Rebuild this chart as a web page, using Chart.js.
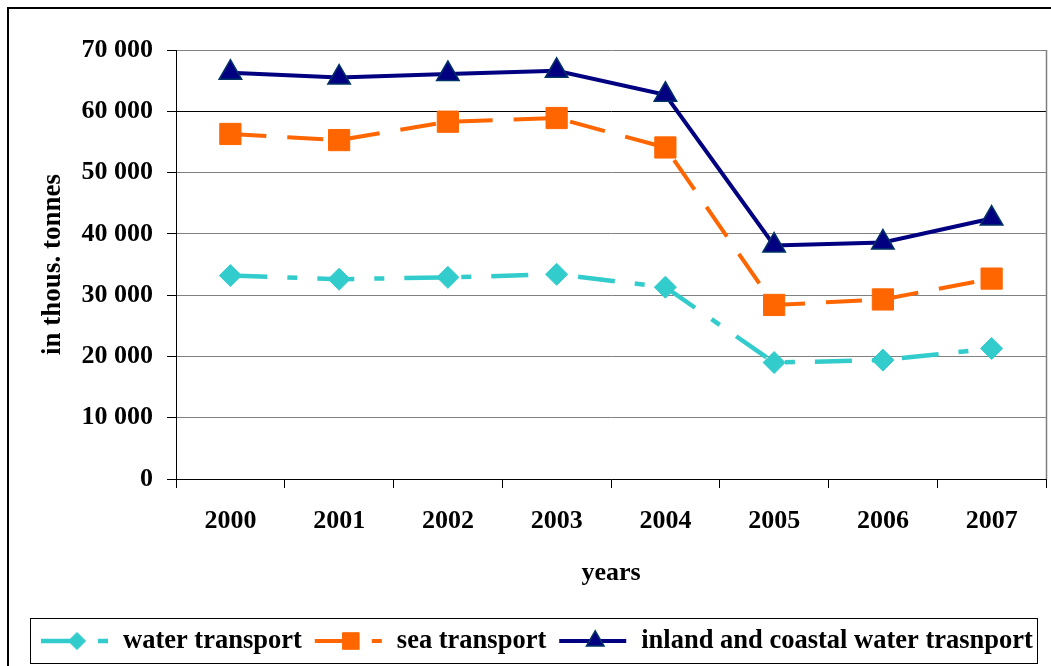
<!DOCTYPE html>
<html>
<head>
<meta charset="utf-8">
<script src="https://cdn.jsdelivr.net/npm/chart.js@4.4.1/dist/chart.umd.min.js"></script>
<style>
  html, body { margin: 0; padding: 0; background: #fff; }
  #wrap { width: 1051px; height: 666px; }
</style>
</head>
<body>
<div id="wrap"><canvas id="chart" width="1051" height="666"></canvas></div>
<script>
// values (thousand tonnes)
const years = ['2000', '2001', '2002', '2003', '2004', '2005', '2006', '2007'];
const waterTransport = [33200, 32600, 32900, 33400, 31300, 19000, 19400, 21300];
const seaTransport = [56300, 55300, 58300, 58900, 54100, 28400, 29300, 32700];
const inlandCoastal = [66300, 65500, 66100, 66600, 62700, 38100, 38600, 42500];
const yTicks = [0, 10000, 20000, 30000, 40000, 50000, 60000, 70000];

const FONT = '"Liberation Serif", "Times New Roman", serif';

const fmt = v => String(v).replace(/\B(?=(\d{3})+(?!\d))/g, ' ');

// outer frame, plot border and the boxed legend
const framePlugin = {
  id: 'frame',
  beforeDraw(chart) {
    const ctx = chart.ctx;
    ctx.save();
    ctx.fillStyle = '#fff';
    ctx.fillRect(0, 0, chart.width, chart.height);
    ctx.strokeStyle = '#000';
    ctx.lineWidth = 2;
    ctx.strokeRect(8, 8, 2000, 2000);
    ctx.restore();
  },
  afterDraw(chart) {
    const ctx = chart.ctx;
    const a = chart.chartArea;
    ctx.save();
    // right border of plot area
    ctx.strokeStyle = '#808080';
    ctx.lineWidth = 1.5;
    ctx.beginPath();
    ctx.moveTo(a.right + 0.5, a.top);
    ctx.lineTo(a.right + 0.5, a.bottom);
    ctx.stroke();

    // legend box
    ctx.strokeStyle = '#000';
    ctx.lineWidth = 1;
    ctx.strokeRect(30.5, 618.5, 1007, 45);

    const y = 641;
    let x = 41;
    ctx.font = 'bold 26.5px ' + FONT;
    ctx.textBaseline = 'middle';
    chart.data.datasets.forEach(ds => {
      const sw = 67;
      ctx.strokeStyle = ds.borderColor;
      ctx.lineWidth = ds.borderWidth;
      ctx.setLineDash(ds.borderDash || []);
      ctx.beginPath();
      ctx.moveTo(x, y);
      ctx.lineTo(x + sw, y);
      ctx.stroke();
      ctx.setLineDash([]);
      ctx.fillStyle = ds.pointBackgroundColor;
      ctx.strokeStyle = ds.pointBorderColor;
      ctx.lineWidth = ds.pointBorderWidth;
      Chart.helpers.drawPoint(ctx, {
        pointStyle: ds.pointStyle,
        radius: ds.pointRadius * 0.78,
        rotation: 0,
        borderWidth: ds.pointBorderWidth
      }, x + 36, y);
      ctx.fillStyle = '#000';
      ctx.textAlign = 'left';
      const tx = x + sw + 15;
      ctx.fillText(ds.label, tx, y);
      x = tx + ctx.measureText(ds.label).width + 13;
    });
    ctx.restore();
  }
};

new Chart(document.getElementById('chart'), {
  type: 'line',
  data: {
    labels: years,
    datasets: [
      {
        label: 'water transport',
        data: waterTransport,
        borderColor: '#33CCCC',
        borderWidth: 4.5,
        borderDash: [37, 20, 10, 20],
        pointStyle: 'rectRot',
        pointRadius: 11,
        pointBackgroundColor: '#33CCCC',
        pointBorderColor: '#33CCCC',
        pointBorderWidth: 1,
        tension: 0,
        order: 3
      },
      {
        label: 'sea transport',
        data: seaTransport,
        borderColor: '#FF6600',
        borderWidth: 4,
        borderDash: [36, 21],
        pointStyle: 'rect',
        pointRadius: 15,
        pointBackgroundColor: '#FF6600',
        pointBorderColor: '#FF6600',
        pointBorderWidth: 1,
        tension: 0,
        order: 2
      },
      {
        label: 'inland and coastal water trasnport',
        data: inlandCoastal,
        borderColor: '#000080',
        borderWidth: 4,
        pointStyle: 'triangle',
        pointRadius: 13,
        pointBackgroundColor: '#000080',
        pointBorderColor: '#003366',
        pointBorderWidth: 1.5,
        tension: 0,
        order: 1
      }
    ]
  },
  options: {
    responsive: false,
    devicePixelRatio: 1,
    animation: false,
    layout: { autoPadding: false, padding: { left: 0, top: 50, right: 5, bottom: 50 } },
    plugins: {
      legend: { display: false },
      tooltip: { enabled: false }
    },
    scales: {
      x: {
        offset: true,
        afterFit: scale => {
          scale.height = 137;
          scale.paddingLeft = 0;
          scale.paddingRight = 0;
        },
        grid: {
          offset: true,
          drawOnChartArea: false,
          drawTicks: true,
          tickLength: 9,
          tickColor: '#000'
        },
        border: { color: '#000', width: 1 },
        ticks: {
          color: '#000',
          padding: 18,
          maxRotation: 0,
          font: { family: FONT, size: 26, weight: 'bold' }
        },
        title: {
          display: true,
          text: 'years',
          color: '#000',
          padding: { top: 0, bottom: 27 },
          font: { family: FONT, size: 26, weight: 'bold' }
        }
      },
      y: {
        min: 0,
        max: 70000,
        afterFit: scale => { scale.width = 176; },
        afterBuildTicks: scale => { scale.ticks = yTicks.map(v => ({ value: v })); },
        grid: {
          color: c => (c.tick && c.tick.value === 60000 ? '#000' : '#808080'),
          lineWidth: 1,
          tickLength: 9,
          tickColor: '#000'
        },
        border: { color: '#000', width: 1 },
        ticks: {
          color: '#000',
          padding: 14,
          font: { family: FONT, size: 26, weight: 'bold' },
          callback: v => fmt(v)
        },
        title: {
          display: true,
          text: 'in thous. tonnes',
          color: '#000',
          padding: { top: 37, bottom: 0 },
          font: { family: FONT, size: 27, weight: 'bold' }
        }
      }
    }
  },
  plugins: [framePlugin]
});
</script>
</body>
</html>
